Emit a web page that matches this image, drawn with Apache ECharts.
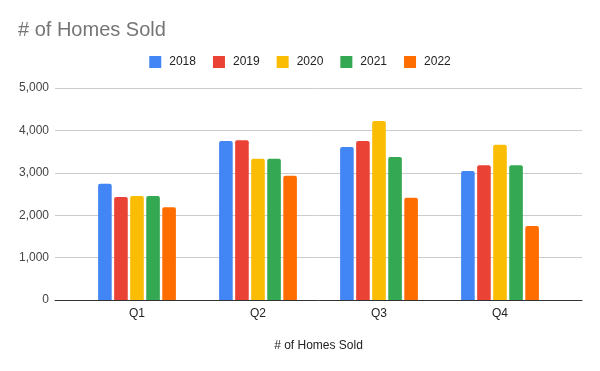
<!DOCTYPE html>
<html>
<head>
<meta charset="utf-8">
<script src="https://cdn.jsdelivr.net/npm/echarts@6/dist/echarts.min.js"></script>
<style>html,body{margin:0;padding:0;background:#fff}#c{width:600px;height:371px}</style>
</head>
<body>
<div id="c"></div>
<script>
var categories = ['Q1', 'Q2', 'Q3', 'Q4'];
var seriesNames = ['2018', '2019', '2020', '2021', '2022'];
var s2018 = [2740, 3750, 3610, 3040];
var s2019 = [2430, 3770, 3750, 3180];
var s2020 = [2450, 3330, 4220, 3660];
var s2021 = [2450, 3330, 3370, 3180];
var s2022 = [2190, 2930, 2410, 1745];
var yTicks = [0, 1000, 2000, 3000, 4000, 5000];
var colors = ['#4285F4', '#EA4335', '#FBBC04', '#34A853', '#FF6D01'];

var values = [s2018, s2019, s2020, s2021, s2022];
var font = 'Liberation Sans, Arial, sans-serif';
var chart = echarts.init(document.getElementById('c'), null, {renderer: 'canvas'});
chart.setOption({
  animation: false,
  color: colors,
  title: {
    text: '# of Homes Sold',
    left: 18, top: 20, padding: 0,
    textStyle: {fontFamily: font, fontSize: 20, fontWeight: 'normal', color: '#757575'}
  },
  legend: {
    data: seriesNames,
    top: 56, left: 'center', padding: 0,
    icon: 'rect', itemWidth: 12, itemHeight: 12, itemGap: 17,
    textStyle: {fontFamily: font, fontSize: 12, color: '#222', padding: [0, 0, 0, 3]}
  },
  grid: [
    {left: 55, right: 18, top: 88, bottom: 71, containLabel: false},
    {left: 76.5, right: 39.5, top: 88, bottom: 71, containLabel: false}
  ],
  xAxis: [
    {
      type: 'category', gridIndex: 0, data: [''],
      axisLine: {show: true, lineStyle: {color: '#333', width: 1}},
      axisTick: {show: false}, axisLabel: {show: false},
      name: '# of Homes Sold', nameLocation: 'middle', nameGap: 40,
      nameTextStyle: {fontFamily: font, fontSize: 12, color: '#222'}
    },
    {
      type: 'category', gridIndex: 1, data: categories,
      axisLine: {show: false}, axisTick: {show: false},
      axisLabel: {fontFamily: font, fontSize: 12, color: '#222', margin: 8}
    }
  ],
  yAxis: [
    {
      type: 'value', gridIndex: 0, min: yTicks[0], max: yTicks[yTicks.length - 1], interval: 1000,
      axisLine: {show: false}, axisTick: {show: false},
      axisLabel: {fontFamily: font, fontSize: 12, color: '#444', margin: 6,
        formatter: function (v) { return v.toLocaleString('en-US'); }},
      splitLine: {lineStyle: {color: '#ccc', width: 1}}
    },
    {
      type: 'value', gridIndex: 1, min: yTicks[0], max: yTicks[yTicks.length - 1], interval: 1000,
      show: false, splitLine: {show: false}
    }
  ],
  series: seriesNames.map(function (n, i) {
    return {
      name: n, type: 'bar', xAxisIndex: 1, yAxisIndex: 1,
      data: values[i], barWidth: 13.6, barGap: '18%',
      itemStyle: {borderRadius: [2, 2, 0, 0]}
    };
  })
});
</script>
</body>
</html>
